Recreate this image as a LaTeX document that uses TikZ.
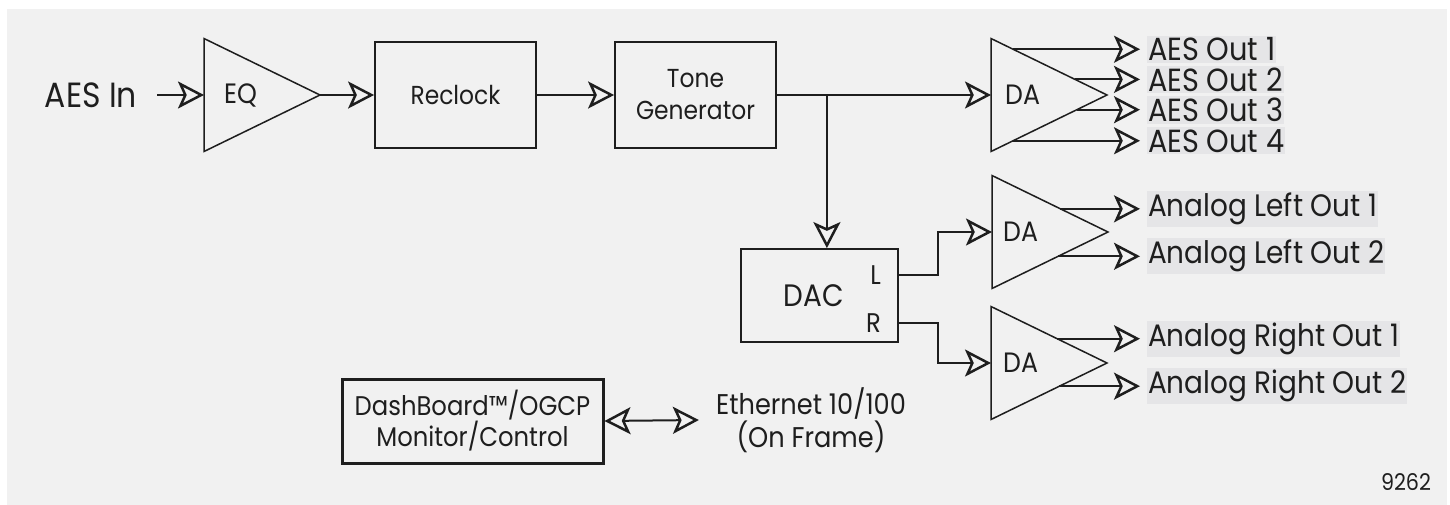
\documentclass[tikz,border=0pt]{standalone}
\usepackage{fontspec}
\setmainfont{Poppins}[FakeStretch=0.9]
\usetikzlibrary{arrows.meta, positioning, calc, shapes.geometric}
\definecolor{panelgray}{HTML}{F1F1F1}
\definecolor{tagfill}{HTML}{E5E5E7}
\definecolor{ink}{HTML}{1E1E1E}

\begin{document}
\begin{tikzpicture}[x=1pt, y=-1pt,
    every node/.style={text=ink},
    block/.style={draw=ink, line width=1.8pt, minimum width=161pt, minimum height=106pt,
                  align=center, font=\fontsize{26}{32}\selectfont},
    amp/.style={draw=ink, line width=1.5pt, isosceles triangle, isosceles triangle stretches,
                minimum width=113pt, minimum height=116pt, inner sep=0pt, outer sep=0pt, anchor=west},
    amplbl/.style={anchor=west, inner sep=0pt, font=\fontsize{28}{32}\selectfont},
    biglbl/.style={font=\fontsize{32}{36}\selectfont},
    outlbl/.style={biglbl, anchor=west, fill=tagfill, inner xsep=1pt, inner ysep=2pt, outer xsep=7pt},
    sig/.style={draw=ink, line width=2pt},
    sigarrow/.style={-{Stealth[open, length=26pt, width=27pt, inset=6pt, line width=2.5pt]}},
    duplex/.style={{Stealth[open, length=26pt, width=27pt, inset=6pt, line width=2.5pt]}-{Stealth[open, length=26pt, width=27pt, inset=6pt, line width=2.5pt]}},
  ]
  \useasboundingbox (0,0) rectangle (1450,504);
  \fill[white] (0,0) rectangle (1450,510);
  \fill[panelgray] (7,9) rectangle (1447,510);

  % signal chain
  \node[biglbl, font=\fontsize{35}{38}\selectfont, anchor=east, inner sep=0pt, outer xsep=20pt] (aesin) at (157,95) {AES In};
  \node[amp] (eq) at (204,95) {};
  \node[amplbl] (eqtxt) at ([xshift=20pt]eq.west) {EQ};
  \node[block] (reclock) at (455.5,95) {Reclock};
  \node[block] (tone) at (695.5,95) {Tone\\Generator};
  \node[amp] (da1) at (991,95) {};
  \node[amplbl] (da1txt) at ([xshift=14pt]da1.west) {DA};

  \draw[sig, sigarrow] (aesin.east) -- (eq.west);
  \draw[sig, sigarrow] (eq.apex) -- (reclock.west);
  \draw[sig, sigarrow] (reclock.east) -- (tone.east -| tone.west);
  \draw[sig, sigarrow] (tone.east) -- (da1.west);

  % DAC and analog amps
  \node[block, minimum width=157pt, minimum height=93pt, font=\fontsize{31}{34}\selectfont] (dac) at (819.5,295.5) {DAC\hspace{12pt}};
  \node[font=\fontsize{27}{30}\selectfont, anchor=east, inner sep=0pt] (dacl) at (881,275) {L};
  \node[font=\fontsize{27}{30}\selectfont, anchor=east, inner sep=0pt] (dacr) at (881,323) {R};
  \node[amp] (da2) at (992,232) {};
  \node[amplbl] (da2txt) at ([xshift=11pt]da2.west) {DA};
  \node[amp] (da3) at (991,363) {};
  \node[amplbl] (da3txt) at ([xshift=12pt]da3.west) {DA};

  \coordinate (split) at ($(tone.east)+(50,0)$);
  \draw[sig, sigarrow] (split) -- (split |- dac.north);
  \draw[sig, sigarrow] (dac.east |- dacl) -- ++(39,0) |- (da2.west);
  \draw[sig, sigarrow] (dac.east |- dacr) -- ++(39,0) |- (da3.west);

  % outputs
  \coordinate (outcol) at (1140,0);
  \coordinate (a1) at ($(da1.apex)!0.81!(da1.left corner)$);
  \coordinate (a2) at ($(da1.apex)!0.276!(da1.left corner)$);
  \coordinate (a3) at ($(da1.apex)!0.26!(da1.right corner)$);
  \coordinate (a4) at ($(da1.apex)!0.81!(da1.right corner)$);
  \coordinate (l1) at ($(da2.apex)!0.41!(da2.left corner)$);
  \coordinate (l2) at ($(da2.apex)!0.43!(da2.right corner)$);
  \coordinate (r1) at ($(da3.apex)!0.43!(da3.left corner)$);
  \coordinate (r2) at ($(da3.apex)!0.41!(da3.right corner)$);

  \node[outlbl] (aes1) at (a1 -| outcol) {AES Out 1};
  \node[outlbl] (aes2) at (a2 -| outcol) {AES Out 2};
  \node[outlbl] (aes3) at (a3 -| outcol) {AES Out 3};
  \node[outlbl] (aes4) at (a4 -| outcol) {AES Out 4};
  \node[outlbl, font=\fontsize{31}{36}\selectfont] (left1) at (l1 -| outcol) {Analog Left Out 1};
  \node[outlbl, font=\fontsize{31}{36}\selectfont] (left2) at (l2 -| outcol) {Analog Left Out 2};
  \node[outlbl, font=\fontsize{31}{36}\selectfont] (right1) at (r1 -| outcol) {Analog Right Out 1};
  \node[outlbl, font=\fontsize{31}{36}\selectfont] (right2) at (r2 -| outcol) {Analog Right Out 2};

  \foreach \src/\dst in {a1/aes1, a2/aes2, a3/aes3, a4/aes4, l1/left1, l2/left2, r1/right1, r2/right2}
    \draw[sig, sigarrow] (\src) -- (\dst.west);

  % control
  \node[draw=ink, line width=3pt, minimum width=261pt, minimum height=84pt, align=center,
        font=\fontsize{27}{31}\selectfont] (dash) at (472.5,421) {DashBoard™/OGCP\\Monitor/Control};
  \node[align=center, inner xsep=17pt, font=\fontsize{28.5}{31}\selectfont] (eth) at (811,420) {Ethernet 10/100\\(On Frame)};
  \draw[sig, duplex] (dash.east) -- (eth.west);

  \node[font=\fontsize{23}{26}\selectfont, inner sep=0pt] (fignum) at (1406,482) {9262};
\end{tikzpicture}
\end{document}
